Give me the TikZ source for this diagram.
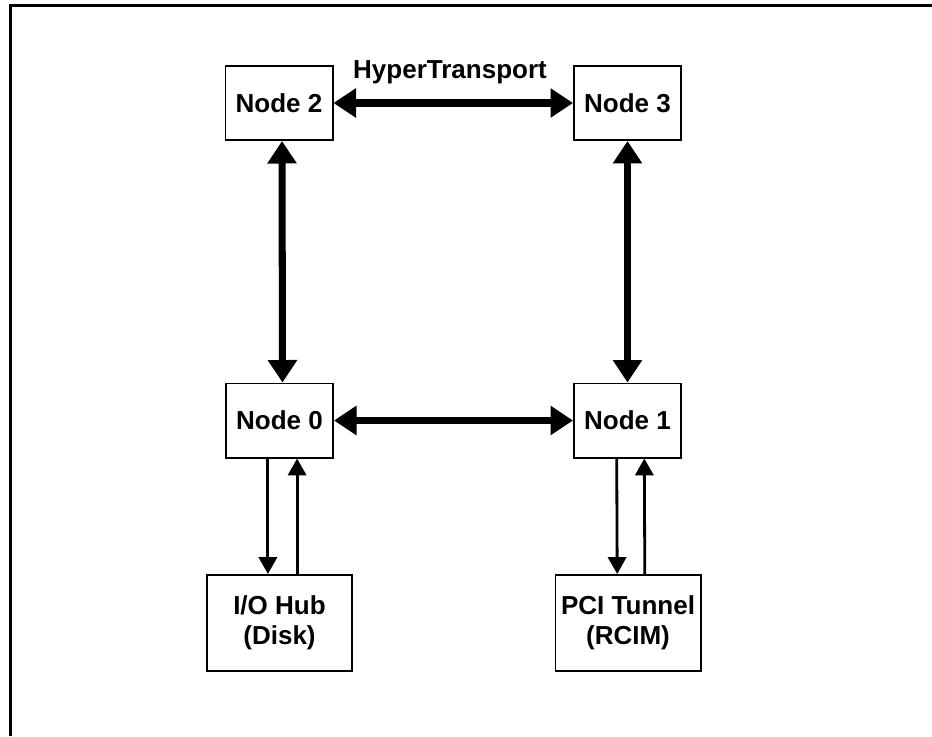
\documentclass[tikz,border=0pt]{standalone}
\usepackage{fontspec}
\setmainfont{Liberation Sans}
\usetikzlibrary{arrows.meta}
\begin{document}
\begin{tikzpicture}[x=.025cm,y=-.025cm,
		every node/.style={font=\bfseries\fontsize{18.5}{21.5}\selectfont},
		box/.style={draw,line width=1.4pt,minimum width=2.675cm,minimum height=1.85cm,inner sep=0pt},
		hub/.style={box,minimum width=3.625cm,minimum height=2.4cm,align=center},
		link/.style={line width=5pt,{Triangle[length=16pt,width=20pt]}-{Triangle[length=16pt,width=20pt]}},
		wire/.style={line width=2pt,-{Triangle[length=12pt,width=13pt]}}]
		\useasboundingbox (0,0) rectangle (932,736);
		\draw [line width=2.1pt] (10.5,736) |- (932,5.5);
		
		\node [box] (n2) at (279,103) {Node 2};
		\node [box] (n3) at (627.5,103) {Node 3};
		\node [box] (n0) at (279.5,420.5) {Node 0};
		\node [box] (n1) at (627.5,420.5) {Node 1};
		\node (ht) at (450,72) {HyperTransport};
		
		\draw [link] (n2.east) -- (n3.west);
		\draw [link] (n0.east) -- (n1.west);
		\draw [link] ([xshift=.075cm]n2.south) -- ([xshift=.075cm]n0.north);
		\draw [link] (n3.south) -- (n1.north);
		
		\node [hub] (io) at (279.5,623) {I/O Hub\\(Disk)};
		\node [hub] (pci) at (628,623) {PCI Tunnel\\(RCIM)};
		
		\draw [wire] ([xshift=-.29cm]n0.south) -- ([xshift=-.29cm]io.north);
		\draw [wire] ([xshift=.44cm]io.north) -- ([xshift=.44cm]n0.south);
		\draw [wire] ([xshift=-.27cm]n1.south) -- ([xshift=-.27cm]pci.north);
		\draw [wire] ([xshift=.42cm]pci.north) -- ([xshift=.42cm]n1.south);
\end{tikzpicture}
\end{document}
